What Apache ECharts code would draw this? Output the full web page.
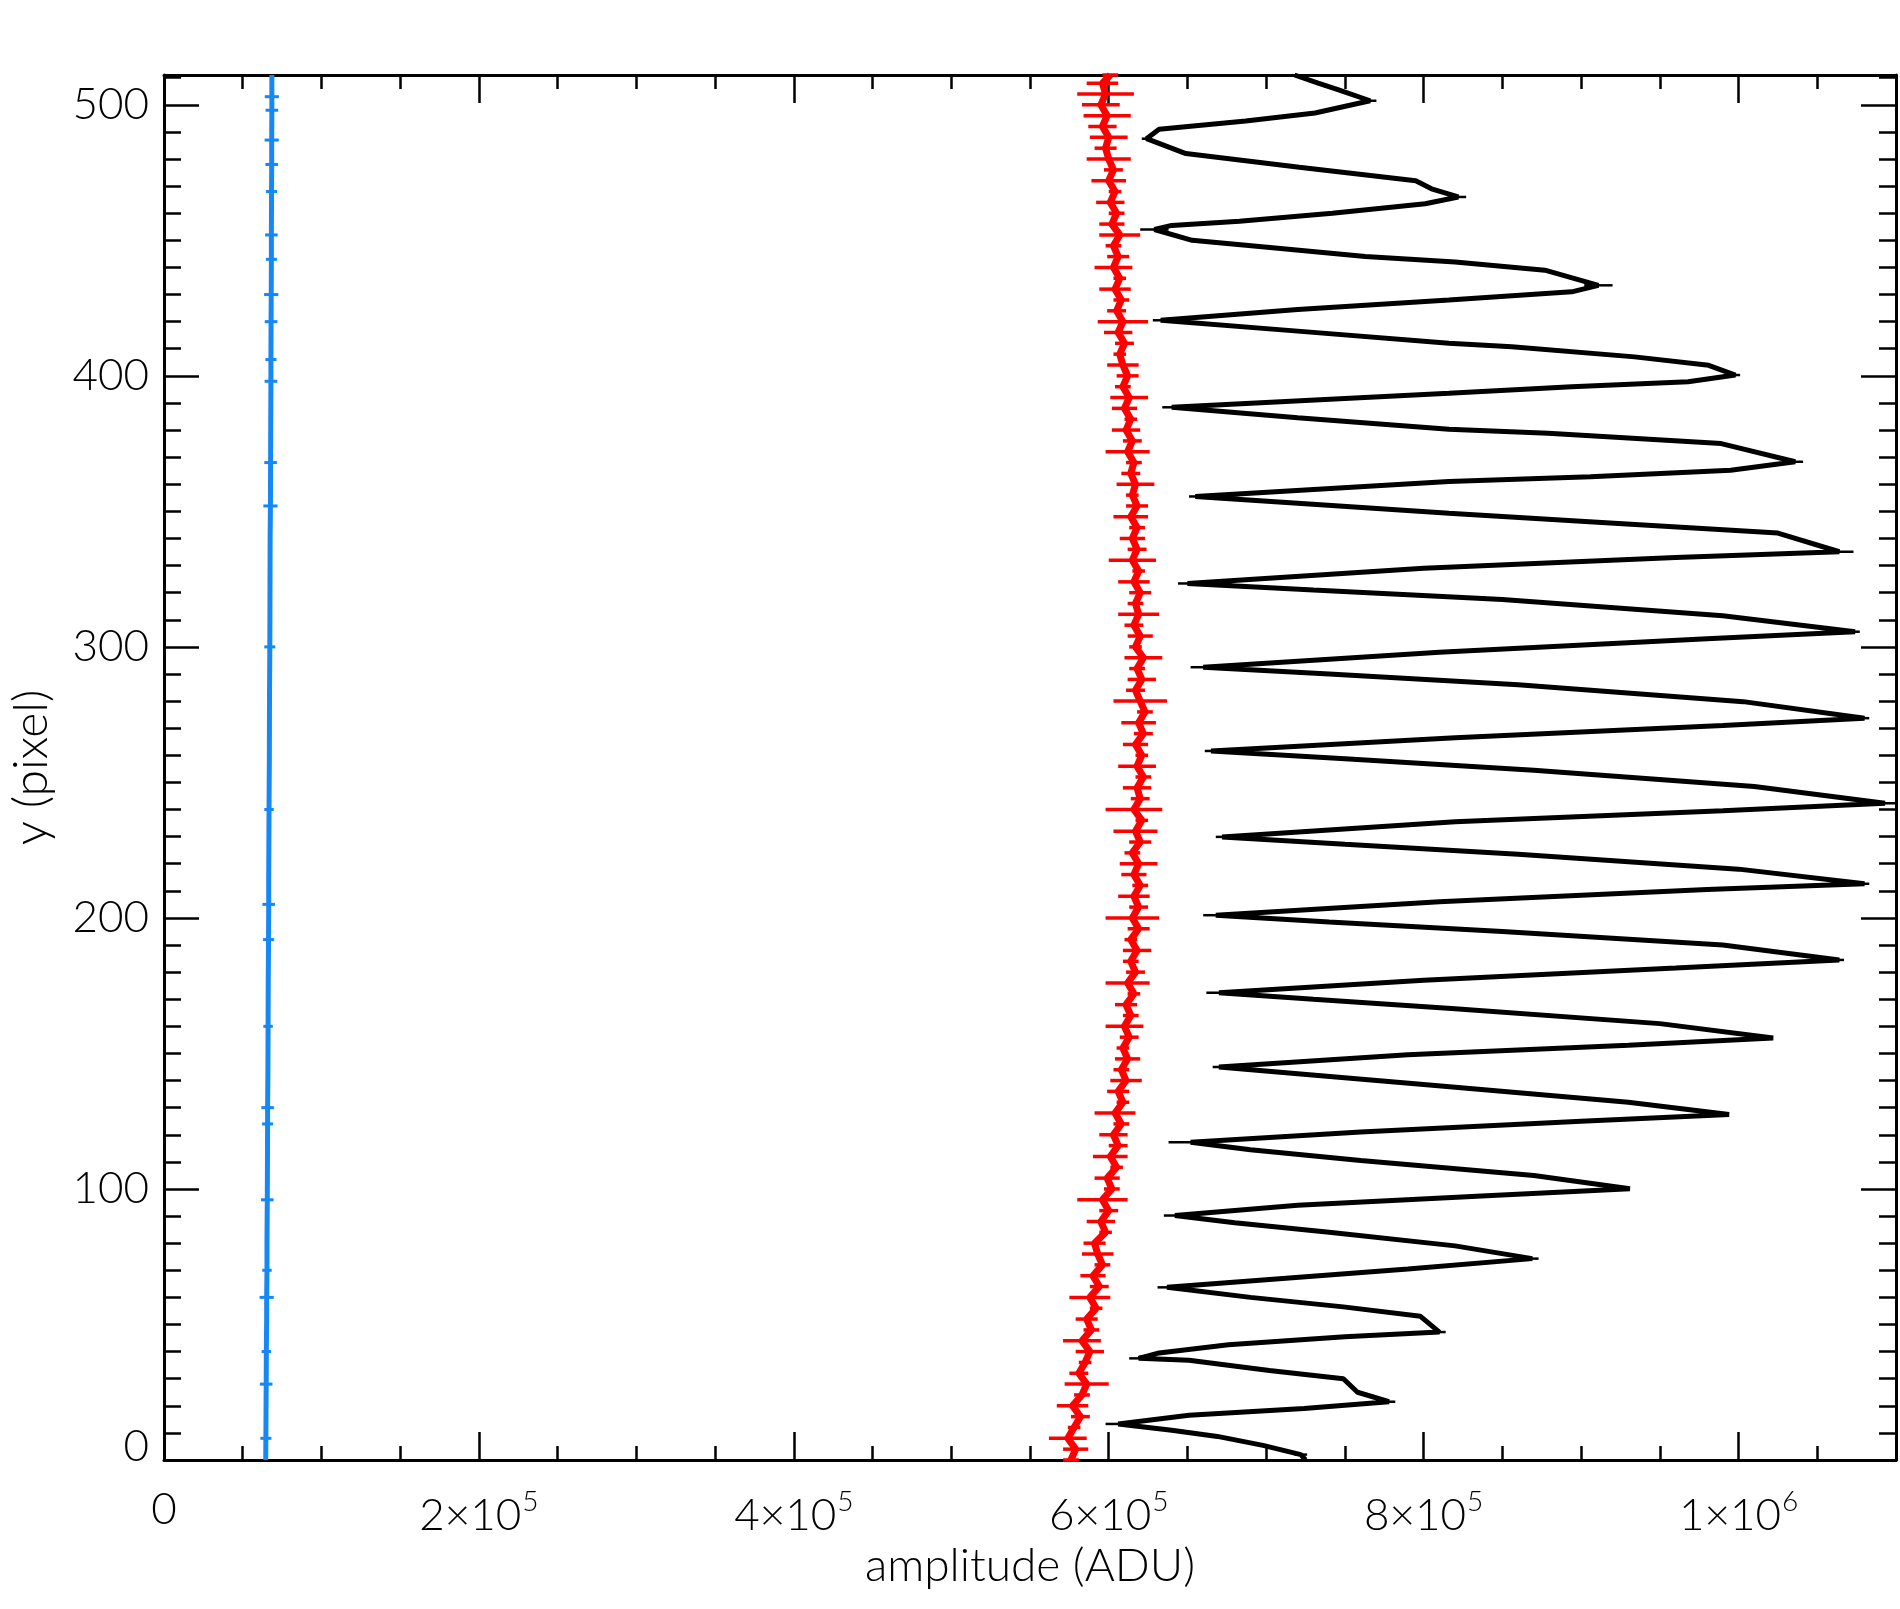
<!DOCTYPE html>
<html style="height: 100%">
<head>
    <meta charset="utf-8">
    <script src="https://cdn.jsdelivr.net/npm/echarts@6/dist/echarts.min.js"></script>
</head>
<body style="height: 100%; margin: 0; background: #fff">
    <div id="main" style="width:1900px;height:1609px;"></div>
    <script type="text/javascript">
    // amplitudes are read in units of 1000 ADU
    var K = 1000;

    // blue profile: y (pixel), amplitude, error half-width
    var blueY = [0, 8, 18, 28, 40, 52, 60, 70, 80, 96, 110, 124, 130, 144, 160, 176, 192, 205, 215, 240,
        258, 280, 300, 320, 340, 352, 368, 384, 398, 406, 420, 430, 443, 452, 468, 478, 487, 498, 503, 511];
    var blueX = [64.6, 64.7, 64.8, 64.9, 65.0, 65.2, 65.2, 65.4, 65.4, 65.6, 65.7, 65.8, 65.8, 66.0, 66.1, 66.2, 66.4, 66.5, 66.5, 66.7,
        66.9, 67.0, 67.2, 67.3, 67.4, 67.6, 67.7, 67.8, 67.9, 67.9, 68.0, 68.1, 68.2, 68.2, 68.3, 68.4, 68.4, 68.5, 68.5, 68.5];
    var blueErr = [0, 3.5, 0, 4, 3, 0, 4.5, 3, 0, 4, 0, 3.5, 4, 0, 3, 0, 3.5, 4, 0, 3,
        0, 0, 3.5, 0, 0, 4.5, 4, 0, 4, 3.5, 4, 4.5, 3.5, 4, 3.5, 4, 4.5, 4, 4.5, 0];

    // red profile: [y, amplitude, error half-width]
    var redRows = [
        [0, 576, 5], [4, 579, 8], [8, 574, 12], [12, 578, 4], [16, 582, 6], [20, 577, 10], [24, 583, 5], [28, 586, 14],
        [32, 581, 6], [36, 585, 4], [40, 588, 9], [44, 583, 12], [48, 589, 5], [52, 586, 7], [56, 592, 4], [60, 588, 13],
        [64, 594, 6], [68, 590, 8], [72, 596, 5], [76, 593, 10], [80, 591, 7], [84, 598, 4], [88, 595, 9], [92, 600, 6],
        [96, 596, 16], [100, 602, 5], [104, 599, 8], [108, 605, 4], [112, 601, 11], [116, 606, 6], [120, 603, 9], [124, 608, 5],
        [128, 604, 13], [132, 609, 4], [136, 606, 7], [140, 611, 10], [144, 608, 5], [148, 612, 8], [152, 609, 4], [156, 613, 6],
        [160, 610, 12], [164, 614, 5], [168, 611, 7], [172, 616, 4], [176, 612, 14], [180, 617, 6], [184, 614, 5], [188, 618, 9],
        [192, 614, 4], [196, 619, 7], [200, 615, 17], [204, 619, 6], [208, 616, 10], [212, 620, 5], [216, 616, 8], [220, 619, 12],
        [224, 615, 5], [228, 620, 7], [232, 617, 14], [236, 621, 4], [240, 616, 18], [244, 620, 6], [248, 618, 9], [252, 622, 5],
        [256, 618, 12], [260, 621, 4], [264, 617, 8], [268, 622, 6], [272, 619, 11], [276, 623, 5], [280, 620, 17], [284, 617, 6],
        [288, 621, 9], [292, 618, 5], [296, 622, 12], [300, 617, 4], [304, 620, 8], [308, 616, 6], [312, 619, 13], [316, 617, 5],
        [320, 620, 7], [324, 616, 10], [328, 619, 4], [332, 615, 15], [336, 618, 6], [340, 615, 8], [344, 618, 5], [348, 614, 11],
        [352, 618, 7], [356, 615, 4], [360, 617, 12], [364, 614, 6], [368, 616, 5], [372, 612, 14], [376, 615, 6], [380, 611, 9],
        [384, 614, 4], [388, 610, 8], [392, 613, 12], [396, 609, 5], [400, 612, 7], [404, 609, 10], [408, 607, 4], [412, 610, 6],
        [416, 606, 9], [420, 609, 16], [424, 605, 6], [428, 608, 5], [432, 604, 10], [436, 607, 4], [440, 603, 12], [444, 606, 7],
        [448, 603, 5], [452, 607, 13], [456, 602, 8], [460, 605, 5], [464, 601, 9], [468, 604, 4], [472, 600, 11], [476, 603, 6],
        [480, 600, 14], [484, 598, 7], [488, 600, 12], [492, 596, 9], [496, 599, 15], [500, 595, 12], [504, 598, 18], [508, 596, 10],
        [511, 601, 5]
    ];

    // black fringe profile: [amplitude, y, error half-width]
    var blackRows = [
        [725, 0, 0], [722, 2, 4], [698, 5.4, 0], [669, 8.7, 0], [640, 11, 0], [606, 13.3, 8],
        [651, 16.5, 0], [724, 19, 0], [778, 21.5, 4], [758, 25, 0], [749, 30, 0], [702, 33, 0], [651, 36.8, 0], [619, 37.5, 6],
        [632, 39.5, 0], [676, 42.5, 0], [750, 45.5, 0], [810, 47.2, 4], [798, 53, 0], [749, 56.5, 0], [690, 60, 0], [637, 63.7, 6],
        [700, 66.5, 0], [790, 70.5, 0], [869, 74.3, 4], [820, 79, 0], [740, 84, 0], [680, 87.5, 0], [642, 90.2, 7],
        [720, 94, 0], [840, 97.5, 0], [931, 100.1, 0], [870, 105, 0], [760, 110.5, 0], [690, 114.5, 0], [652, 117.2, 14],
        [760, 121, 0], [900, 125, 0], [994, 127.5, 0], [930, 132, 0], [800, 138.5, 0], [720, 142.5, 0], [670, 145, 4],
        [790, 149.5, 0], [930, 153, 0], [1022, 155.7, 0], [950, 161, 0], [820, 166.5, 0], [730, 170, 0], [670, 172.4, 8],
        [800, 177, 0], [960, 181.5, 0], [1064, 184.5, 3], [990, 190, 0], [850, 195, 0], [740, 198.5, 0], [668, 201, 8],
        [810, 206, 0], [980, 210.5, 0], [1080, 212.6, 3], [1000, 218, 0], [860, 223.5, 0], [750, 227.2, 0], [672, 229.9, 4],
        [820, 235.5, 0], [990, 239.5, 0], [1093, 242.3, 8], [1010, 248.5, 0], [870, 254.5, 0], [750, 258.7, 0], [665, 261.6, 4],
        [820, 266.5, 0], [990, 271, 0], [1080, 273.7, 3], [1003, 279.8, 0], [860, 286, 0], [740, 290, 0], [660, 292.5, 8],
        [810, 298, 0], [980, 303, 0], [1074, 305.6, 3], [990, 311.5, 0], [850, 317.5, 0], [730, 321, 0], [650, 323.4, 6],
        [800, 329, 0], [960, 333, 0], [1064, 335.1, 9], [1025, 342, 0], [921, 345.6, 0], [816, 349.3, 0], [720, 353, 0], [655, 355.5, 4],
        [816, 361, 0], [906, 362.8, 0], [995, 365.2, 0], [1036, 368.3, 5], [989, 375, 0], [879, 378.8, 0], [816, 380.3, 0], [720, 384.5, 0], [640, 388.4, 6],
        [816, 393.6, 0], [894, 396, 0], [968, 397.8, 0], [998, 400.3, 3], [981, 403.9, 0], [934, 407, 0], [856, 410.7, 0], [816, 412, 0], [720, 416.5, 0], [633, 420.5, 5],
        [720, 424.5, 0], [816, 428, 0], [894, 431, 0], [911, 433.4, 9], [877, 439, 0], [820, 442, 0], [763, 444, 0], [699, 447.5, 0], [653, 450, 0], [629, 454, 9],
        [640, 455.5, 0], [683, 457, 0], [742, 460, 0], [801, 463.5, 0], [822, 466, 5], [805, 469, 0], [795, 472, 0], [721, 477, 0], [649, 482, 0], [624, 487.5, 3],
        [632, 491, 0], [687, 494, 0], [731, 497, 0], [766, 501.5, 4], [746, 505.5, 0], [733, 508, 0], [718, 511, 0]
    ];

    var xMax = 1100000;
    var yMax = 511;

    var blueLine = blueY.map(function (y, i) { return [blueX[i] * K, y]; });
    var blueBars = [];
    blueY.forEach(function (y, i) {
        if (blueErr[i] > 0) blueBars.push([(blueX[i] - blueErr[i]) * K, (blueX[i] + blueErr[i]) * K, y]);
    });
    var redLine = redRows.map(function (r) { return [r[1] * K, r[0]]; });
    var redBars = redRows.map(function (r) { return [(r[1] - r[2]) * K, (r[1] + r[2]) * K, r[0]]; });
    var blackLine = blackRows.map(function (r) { return [r[0] * K, r[1]]; });
    var blackBars = [];
    blackRows.forEach(function (r) {
        if (r[2] > 0) blackBars.push([(r[0] - r[2]) * K, (r[0] + r[2]) * K, r[1]]);
    });

    var FONT = "Lato, 'DejaVu Sans', sans-serif";
    var WEIGHT = 300;

    function errorBars(color, width) {
        return function (params, api) {
            var y = api.value(2);
            var a = api.coord([api.value(0), y]);
            var b = api.coord([api.value(1), y]);
            return {
                type: 'line',
                shape: { x1: a[0], y1: a[1], x2: b[0], y2: b[1] },
                style: { stroke: color, lineWidth: width }
            };
        };
    }

    function xAxisOf(pos, interval, tickLen, main) {
        return {
            type: 'value', position: pos, min: 0, max: xMax, interval: interval,
            axisLine: { show: main, onZero: false, lineStyle: { color: '#000', width: 3 } },
            axisTick: { show: true, inside: true, length: tickLen, lineStyle: { color: '#000', width: 2.5 } },
            axisLabel: { show: false },
            splitLine: { show: false }
        };
    }
    function yAxisOf(pos, interval, tickLen, main) {
        return {
            type: 'value', position: pos, min: 0, max: yMax, interval: interval,
            axisLine: { show: main, onZero: false, lineStyle: { color: '#000', width: 3 } },
            axisTick: { show: true, inside: true, length: tickLen, lineStyle: { color: '#000', width: 2.5 } },
            axisLabel: { show: false },
            splitLine: { show: false }
        };
    }

    var xBottom = xAxisOf('bottom', 200000, 28, true);
    xBottom.axisLabel = {
        show: true, interval: 0, margin: 28, color: '#000', fontFamily: FONT, fontWeight: WEIGHT, fontSize: 44,
        formatter: function (v) {
            if (v % 200000 !== 0) return '';
            if (v === 0) return '{b|0}';
            if (v === 1000000) return '{b|1×10}{s|6}';
            return '{b|' + (v / 100000) + '×10}{s|5}';
        },
        rich: {
            b: { fontFamily: FONT, fontWeight: WEIGHT, fontSize: 44, color: '#000' },
            s: { fontFamily: FONT, fontWeight: WEIGHT, fontSize: 28, color: '#000', padding: [0, 0, 28, 1] }
        }
    };
    xBottom.name = 'amplitude (ADU)';
    xBottom.nameLocation = 'middle';
    xBottom.nameGap = 80;
    xBottom.nameTextStyle = { fontFamily: FONT, fontWeight: WEIGHT, fontSize: 46, color: '#000' };

    var yLeft = yAxisOf('left', 100, 35, true);
    yLeft.axisLabel = {
        show: true, interval: 0, margin: 15, color: '#000', fontFamily: FONT, fontWeight: WEIGHT, fontSize: 44,
        formatter: function (v) {
            if (v % 100 !== 0) return '';
            if (v === 0) return '{z|0}';
            return String(v);
        },
        rich: {
            z: { fontFamily: FONT, fontWeight: WEIGHT, fontSize: 44, color: '#000', padding: [0, 0, 26, 0] }
        }
    };
    yLeft.name = 'y (pixel)';
    yLeft.nameLocation = 'middle';
    yLeft.nameRotate = 90;
    yLeft.nameGap = 108;
    yLeft.nameTextStyle = { fontFamily: FONT, fontWeight: WEIGHT, fontSize: 48, color: '#000' };

    var myChart = echarts.init(document.getElementById('main'), null, { renderer: 'canvas' });
    var option = {
        backgroundColor: '#fff',
        animation: false,
        grid: { left: 164, right: 4, top: 75, bottom: 149 },
        xAxis: [
            xBottom,
            xAxisOf('bottom', 50000, 14, false),
            xAxisOf('top', 200000, 28, true),
            xAxisOf('top', 50000, 14, false)
        ],
        yAxis: [
            yLeft,
            yAxisOf('left', 10, 17, false),
            yAxisOf('right', 100, 35, true),
            yAxisOf('right', 10, 17, false)
        ],
        series: [
            {
                name: 'blue', type: 'line', data: blueLine, showSymbol: false, z: 3,
                lineStyle: { color: '#1688f5', width: 5 }
            },
            {
                name: 'blue err', type: 'custom', data: blueBars, z: 3,
                encode: { x: [0, 1], y: 2 }, renderItem: errorBars('#1688f5', 3)
            },
            {
                name: 'black', type: 'line', data: blackLine, showSymbol: false, z: 4,
                lineStyle: { color: '#000', width: 5 }
            },
            {
                name: 'black err', type: 'custom', data: blackBars, z: 4,
                encode: { x: [0, 1], y: 2 }, renderItem: errorBars('#000', 2.5)
            },
            {
                name: 'red', type: 'line', data: redLine, showSymbol: false, z: 5,
                lineStyle: { color: '#ff0000', width: 7, join: 'bevel' }
            },
            {
                name: 'red err', type: 'custom', data: redBars, z: 5,
                encode: { x: [0, 1], y: 2 }, renderItem: errorBars('#ff0000', 3.5)
            }
        ]
    };
    myChart.setOption(option);
    </script>
</body>
</html>
